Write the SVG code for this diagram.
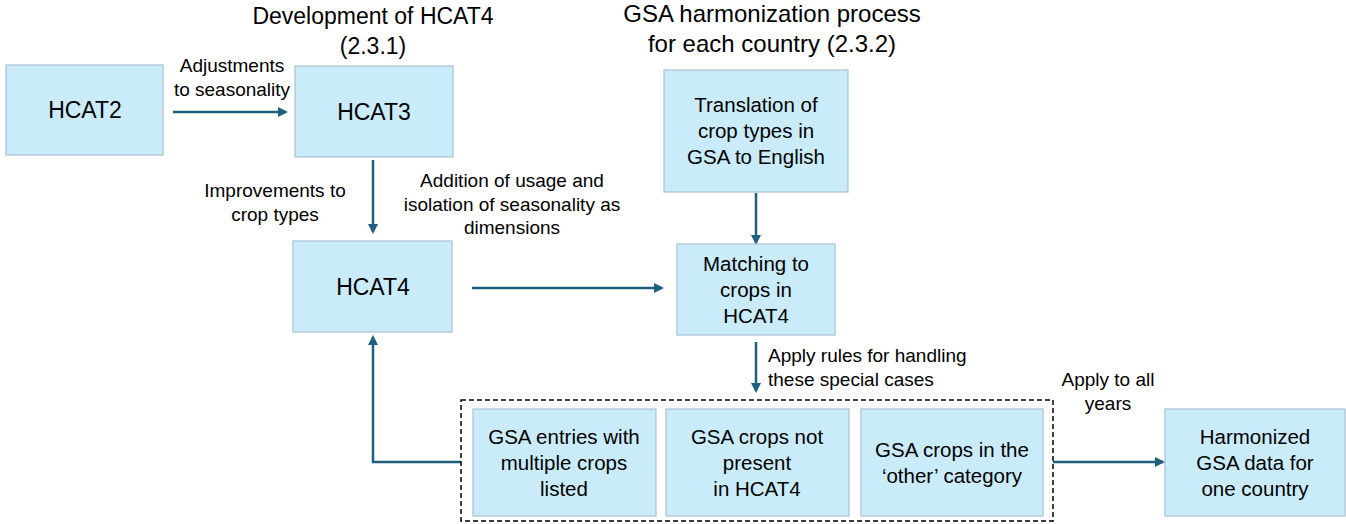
<svg xmlns="http://www.w3.org/2000/svg" width="1346" height="524" viewBox="0 0 1346 524">
<style>
.box{fill:#caecfa;stroke:#a9c2cf;stroke-width:1.2}
.t{font-family:"Liberation Sans",Arial,sans-serif;fill:#000;text-anchor:middle}
.bt{font-size:20.5px}
.big{font-size:23px}
.lbl{font-size:19px}
.ttl{font-size:23px}
.ttl2{font-size:24px}
.c{fill:none;stroke:#1f5f80;stroke-width:2.5}
</style>
<defs>
<marker id="ah" markerWidth="10" markerHeight="10" refX="8" refY="5" orient="auto" markerUnits="userSpaceOnUse">
<path d="M0,0 L10,5 L0,10 Z" fill="#1f5f80"/>
</marker>
</defs>
<rect width="1346" height="524" fill="#fff"/>
<text class="t ttl" x="373" y="24">Development of HCAT4</text>
<text class="t ttl" x="373" y="54">(2.3.1)</text>
<text class="t ttl2" x="772" y="22">GSA harmonization process</text>
<text class="t ttl2" x="772" y="52">for each country (2.3.2)</text>
<g id="connectors">
<line class="c" x1="173" y1="112" x2="286" y2="112" marker-end="url(#ah)"/>
<line class="c" x1="373" y1="160" x2="373" y2="232" marker-end="url(#ah)"/>
<line class="c" x1="472" y1="288" x2="662" y2="288" marker-end="url(#ah)"/>
<line class="c" x1="756" y1="193" x2="756" y2="243" marker-end="url(#ah)"/>
<line class="c" x1="756" y1="342" x2="756" y2="391" marker-end="url(#ah)"/>
<polyline class="c" points="461,462 373,462 373,337" marker-end="url(#ah)"/>
<line class="c" x1="1053" y1="462" x2="1163" y2="462" marker-end="url(#ah)"/>
<text class="t lbl" x="232" y="72">Adjustments</text>
<text class="t lbl" x="232" y="96">to seasonality</text>
<text class="t lbl" x="275" y="197">Improvements to</text>
<text class="t lbl" x="275" y="221">crop types</text>
<text class="t lbl" x="512" y="187">Addition of usage and</text>
<text class="t lbl" x="512" y="211">isolation of seasonality as</text>
<text class="t lbl" x="512" y="234">dimensions</text>
<text class="t lbl" x="768" y="362" style="text-anchor:start">Apply rules for handling</text>
<text class="t lbl" x="768" y="386" style="text-anchor:start">these special cases</text>
<text class="t lbl" x="1108" y="386">Apply to all</text>
<text class="t lbl" x="1108" y="410">years</text>
</g>
<rect id="group-box" x="461" y="400" width="592" height="121" fill="none" stroke="#000" stroke-width="1.5" stroke-dasharray="5,3"/>
<g id="hcat2"><rect class="box" x="6" y="65" width="157" height="90"/><text class="t big" x="85" y="118">HCAT2</text></g>
<g id="hcat3"><rect class="box" x="295" y="66" width="158" height="91"/><text class="t big" x="374" y="120">HCAT3</text></g>
<g id="hcat4"><rect class="box" x="293" y="241" width="159" height="91"/><text class="t big" x="373" y="295">HCAT4</text></g>
<g id="translation"><rect class="box" x="664" y="70" width="184" height="122"/>
<text class="t bt" x="756" y="112">Translation of</text><text class="t bt" x="756" y="138">crop types in</text><text class="t bt" x="756" y="164">GSA to English</text></g>
<g id="matching"><rect class="box" x="677" y="244" width="158" height="91"/>
<text class="t bt" x="756" y="271">Matching to</text><text class="t bt" x="756" y="297">crops in</text><text class="t bt" x="756" y="323">HCAT4</text></g>
<g id="multiple"><rect class="box" x="473" y="409" width="183" height="107"/>
<text class="t bt" x="564" y="444">GSA entries with</text><text class="t bt" x="564" y="470">multiple crops</text><text class="t bt" x="564" y="496">listed</text></g>
<g id="notpresent"><rect class="box" x="666" y="409" width="183" height="107"/>
<text class="t bt" x="757" y="444">GSA crops not</text><text class="t bt" x="757" y="470">present</text><text class="t bt" x="757" y="496">in HCAT4</text></g>
<g id="other"><rect class="box" x="861" y="409" width="182" height="107"/>
<text class="t bt" x="952" y="457">GSA crops in the</text><text class="t bt" x="952" y="483">‘other’ category</text></g>
<g id="harmonized"><rect class="box" x="1165" y="409" width="180" height="107"/>
<text class="t bt" x="1255" y="444">Harmonized</text><text class="t bt" x="1255" y="470">GSA data for</text><text class="t bt" x="1255" y="496">one country</text></g>
</svg>
